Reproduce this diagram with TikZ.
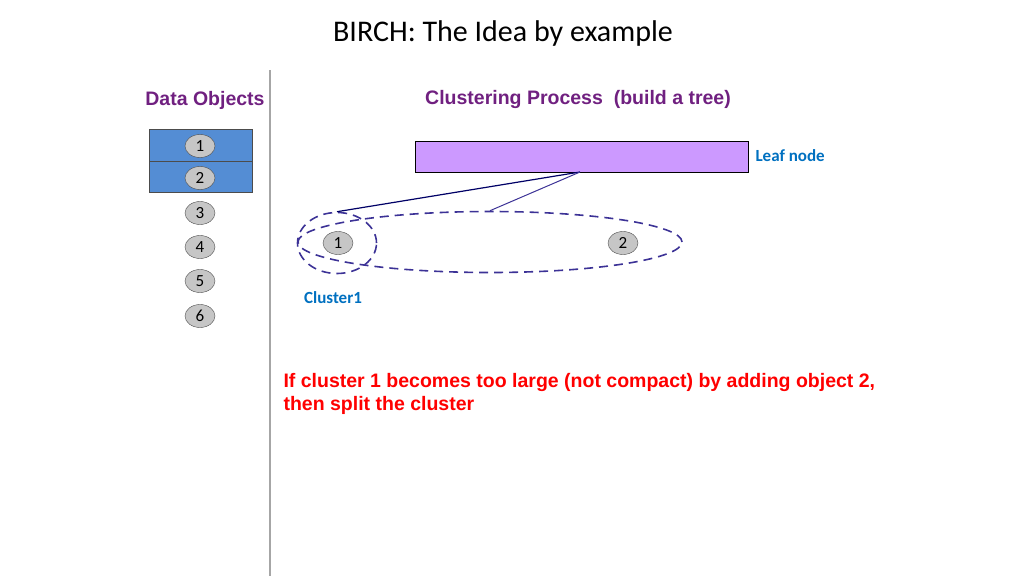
\documentclass[tikz,border=0pt]{standalone}
\usepackage{fontspec}
\usetikzlibrary{shapes.geometric}
\setmainfont{Carlito}
\newfontfamily\arialb{Liberation Sans}
\definecolor{dpurple}{RGB}{112,32,128}
\definecolor{blu}{RGB}{0,112,192}
\definecolor{boxblue}{RGB}{84,141,212}
\definecolor{lav}{RGB}{204,153,255}
\definecolor{dash}{RGB}{60,50,150}
\begin{document}
\begin{tikzpicture}[x=1pt,y=-1pt,
  obj/.style={ellipse,draw=black!70,fill=gray!45,minimum width=30pt,minimum height=23pt,inner sep=0pt,font=\fontsize{17}{17}\selectfont},
  lbl/.style={font=\arialb\bfseries\fontsize{19.5}{22}\selectfont},
  blbl/.style={font=\bfseries\fontsize{17}{20}\selectfont,text=blu},
  clus/.style={draw=dash,dashed,dash pattern=on 9pt off 6pt,line width=1.6pt}]
\useasboundingbox (0,0) rectangle (1024,576);
\node (title) at (503,33) {\fontsize{30}{32}\selectfont BIRCH: The Idea by example};
\draw[gray!70,line width=1.2pt] (270,70) -- (270,576);
\node[lbl,text=dpurple] (dobj) at (205,100) {Data Objects};
\node[lbl,text=dpurple] (cp) at (578,99) {Clustering Process\ \ (build a tree)};
\draw[fill=boxblue,draw=black!70] (149,129) rectangle (252,161);
\draw[fill=boxblue,draw=black!70] (149,161) rectangle (252,192);
\foreach \i/\y in {1/146,2/178,3/213,4/247,5/281,6/316}{
  \node[obj] (o\i) at (200,\y) {\i};}
\node[draw=black,line width=1pt,fill=lav,minimum width=333pt,minimum height=31pt,inner sep=0pt] (leaf) at (581.5,156.5) {};
\node[blbl,anchor=west] (leafl) at (752,156) {Leaf node};
\node[ellipse,minimum width=79pt,minimum height=61pt,clus] (c1) at (337,243) {};
\node[ellipse,minimum width=384pt,minimum height=61pt,clus] (c2) at (490,242) {};
\coordinate (lb) at (580,172);
\draw[draw=blue!40!black,line width=1.2pt] (lb) -- (c1.north);
\draw[draw=dash,line width=1pt] (lb) -- (c2.north);
\node[obj] (n1) at (338,243) {1};
\node[obj] (n2) at (623,243) {2};
\node[blbl] (cl1) at (333,298) {Cluster1};
\node[lbl,text=red,anchor=north west,align=left,font=\arialb\bfseries\fontsize{19.5}{23}\selectfont] (note) at (280,370) {If cluster 1 becomes too large (not compact) by adding object 2,\\then split the cluster};
\end{tikzpicture}
\end{document}
